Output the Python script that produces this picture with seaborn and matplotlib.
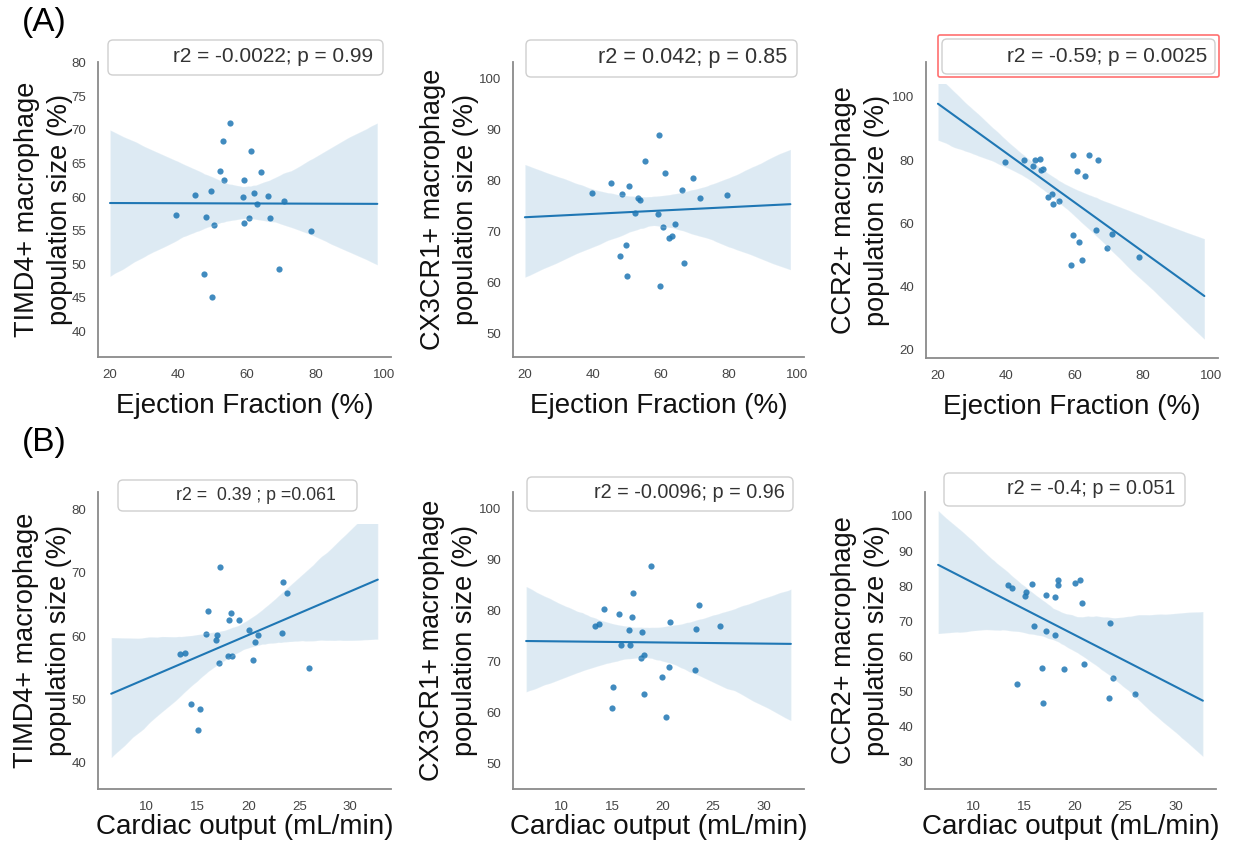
import matplotlib
matplotlib.use("Agg")
import matplotlib.pyplot as plt
from matplotlib.patches import FancyBboxPatch, Rectangle
from matplotlib.collections import PathCollection
from matplotlib.transforms import IdentityTransform
import seaborn as sns
import pandas as pd

# ---------------- data ----------------
ef_timd4 = [55.1, 53.1, 61.1, 52.1, 64.0, 53.4, 59.1, 44.9, 49.4, 58.7, 62.1, 66.2,
            70.8, 62.8, 39.3, 48.1, 50.4, 59.2, 60.5, 66.6, 78.8, 69.4, 47.5, 49.8]
timd4_ef = [71.0, 68.4, 66.8, 63.9, 63.7, 62.5, 62.5, 60.3, 60.9, 60.0, 60.6, 60.1,
            59.4, 59.0, 57.3, 57.1, 55.8, 56.2, 56.9, 56.9, 55.0, 49.3, 48.5, 45.2]

ef_cx3cr1 = [59.5, 55.3, 61.3, 69.5, 45.2, 50.7, 39.7, 48.5, 66.1, 79.3, 53.3, 53.8,
             71.3, 52.2, 59.0, 60.6, 64.2, 62.4, 63.3, 49.7, 47.8, 66.8, 50.1, 59.7]
cx3cr1_ef = [89.0, 83.8, 81.4, 80.5, 79.5, 79.0, 77.6, 77.3, 78.1, 77.2, 76.6, 76.1,
             76.5, 73.6, 73.5, 70.9, 71.5, 68.6, 69.1, 67.3, 65.2, 63.8, 61.2, 59.3]

ef_ccr2 = [39.6, 45.2, 47.8, 48.5, 49.8, 50.1, 50.7, 52.3, 53.4, 53.8, 55.3, 59.5,
           60.7, 63.1, 64.3, 66.8, 59.4, 61.4, 66.4, 71.0, 69.6, 79.0, 62.3, 59.0]
ccr2_ef = [79.3, 80.1, 78.1, 80.0, 80.4, 76.9, 77.2, 68.4, 69.4, 66.0, 67.1, 81.5,
           76.5, 74.9, 81.5, 79.9, 56.3, 54.0, 57.8, 56.7, 52.1, 49.3, 48.4, 46.9]

co_timd4 = [17.2, 23.4, 23.8, 16.0, 18.3, 18.1, 19.1, 15.8, 16.9, 16.8, 20.0, 20.9,
            20.6, 23.3, 13.3, 13.8, 18.0, 18.4, 17.1, 20.4, 25.9, 14.3, 15.2, 15.0]
timd4_co = [71.0, 68.5, 66.8, 63.9, 63.7, 62.6, 62.6, 60.4, 60.1, 59.4, 60.9, 60.2,
            59.0, 60.5, 57.2, 57.3, 56.9, 56.9, 55.8, 56.2, 55.0, 49.3, 48.5, 45.2]

co_cx3cr1 = [18.9, 17.1, 23.6, 14.2, 15.7, 17.0, 20.7, 13.3, 13.7, 16.7, 18.0, 23.3,
             25.7, 15.9, 16.8, 18.2, 17.9, 20.6, 19.9, 23.2, 15.1, 18.2, 15.0, 20.3]
cx3cr1_co = [88.8, 83.6, 81.2, 80.3, 79.3, 78.8, 77.9, 77.1, 77.5, 76.3, 75.9, 76.4,
             77.0, 73.4, 73.3, 71.3, 70.8, 69.0, 67.1, 68.4, 65.0, 63.7, 61.0, 59.2]

co_ccr2 = [13.4, 13.8, 15.8, 18.4, 18.4, 20.0, 20.5, 15.2, 15.1, 17.2, 18.1, 20.7,
           23.5, 16.0, 17.2, 18.1, 20.9, 16.8, 19.0, 23.8, 14.3, 26.0, 23.4, 16.9]
ccr2_co = [80.2, 79.6, 80.5, 81.9, 80.2, 80.8, 81.9, 78.4, 77.2, 77.5, 76.8, 75.1,
           69.6, 68.7, 67.3, 66.2, 57.8, 56.8, 56.3, 54.0, 52.1, 49.3, 48.2, 46.8]

stats_texts = ["r2 = -0.0022; p = 0.99", "r2 = 0.042; p = 0.85", "r2 = -0.59; p = 0.0025",
               "r2 =  0.39 ; p =0.061", "r2 = -0.0096; p = 0.96", "r2 = -0.4; p = 0.051"]
ylabels = ["TIMD4+ macrophage\npopulation size (%)",
           "CX3CR1+ macrophage\npopulation size (%)",
           "CCR2+ macrophage\npopulation size (%)"]
xlabels = ["Ejection Fraction (%)", "Cardiac output (mL/min)"]
ef_ticks = [20, 40, 60, 80, 100]
co_ticks = [10, 15, 20, 25, 30]
yticks_list = [[40, 45, 50, 55, 60, 65, 70, 75, 80],
               [50, 60, 70, 80, 90, 100],
               [20, 40, 60, 80, 100],
               [40, 50, 60, 70, 80],
               [50, 60, 70, 80, 90, 100],
               [30, 40, 50, 60, 70, 80, 90, 100]]

# ---------------- style ----------------
sns.set_theme(style="white")
plt.rcParams["font.family"] = ["Liberation Sans", "DejaVu Sans"]

W, H = 1238, 843
fig = plt.figure(figsize=(W / 100, H / 100), dpi=100)

def rect(l, r, top, bot):
    return [l / W, 1 - bot / H, (r - l) / W, (bot - top) / H]

panels = [
    dict(x=ef_timd4, y=timd4_ef, pos=rect(98, 391, 62, 357), ylim=(36.2, 80.1), row=0, col=0, clip=None, ylx=-0.085),
    dict(x=ef_cx3cr1, y=cx3cr1_ef, pos=rect(513, 804, 62, 357), ylim=(45.3, 103.3), row=0, col=1, clip=None, ylx=-0.118),
    dict(x=ef_ccr2, y=ccr2_ef, pos=rect(926, 1218, 62, 358), ylim=(17.4, 111.0), row=0, col=2, clip=104.0, ylx=-0.123),
    dict(x=co_timd4, y=timd4_co, pos=rect(98, 391, 492, 789), ylim=(35.8, 82.8), row=1, col=0, clip=77.8, ylx=-0.09),
    dict(x=co_cx3cr1, y=cx3cr1_co, pos=rect(513, 804, 492, 789), ylim=(45.1, 103.3), row=1, col=1, clip=None, ylx=-0.12),
    dict(x=co_ccr2, y=ccr2_co, pos=rect(925, 1216, 492, 789), ylim=(22.3, 106.8), row=1, col=2, clip=None, ylx=-0.12),
]

blue = "#1f77b4"
for i, p in enumerate(panels):
    ax = fig.add_axes(p["pos"])
    df = pd.DataFrame({"x": p["x"], "y": p["y"]})
    if p["row"] == 0:
        line_range, final_xlim, xt = (20, 98), (16.5, 102), ef_ticks
    else:
        line_range, final_xlim, xt = (6.5, 32.7), (5.2, 34.0), co_ticks
    ax.set_xlim(*line_range)
    sns.regplot(data=df, x="x", y="y", ax=ax, truncate=False, seed=1, color=blue,
                scatter_kws=dict(s=20, alpha=0.85, linewidths=0),
                line_kws=dict(lw=1.5))
    if p["clip"] is not None:
        for coll in ax.collections:
            if not isinstance(coll, PathCollection):
                cr = Rectangle((-100, -100), 300, p["clip"] + 100, transform=ax.transData)
                coll.set_clip_path(cr)
    ax.set_xlim(*final_xlim)
    ax.set_ylim(*p["ylim"])
    ax.set_xticks(xt)
    ax.set_yticks(yticks_list[i])
    ax.tick_params(labelsize=9.5, labelcolor="#444444", pad=2.5)
    sns.despine(ax=ax)
    for s in ("left", "bottom"):
        ax.spines[s].set_color("#8a8a8a")
        ax.spines[s].set_linewidth(1.3)
    ax.set_ylabel(ylabels[p["col"]], fontsize=19.5, color="#111111", linespacing=1.35)
    ax.yaxis.set_label_coords(p["ylx"], 0.5)
    ax.set_xlabel(xlabels[p["row"]], fontsize=20, color="#111111",
                  labelpad=9 if p["row"] == 0 else 1)

# ---------------- stats boxes ----------------
ident = IdentityTransform()
def box(l, r, top, bot, ec="#cfcfcf", lw=1.0, rs=5):
    patch = FancyBboxPatch((l, H - bot), r - l, bot - top,
                           boxstyle=f"round,pad=0,rounding_size={rs}",
                           transform=ident, facecolor="white", edgecolor=ec, linewidth=lw)
    fig.add_artist(patch)

boxes = [(108, 383, 40, 75), (526, 797, 40, 77), (942, 1215, 39, 74),
         (118, 357, 480, 511), (527, 793, 477, 511), (944, 1185, 473, 506)]
text_anchor = [(373, 57, "right"), (787, 58, "right"), (1207, 56, "right"),
               (176, 495, "left"), (785, 492, "right"), (1175, 489, "right")]
text_sizes = [15, 15.6, 15, 12.8, 14.3, 14.2]

# red highlight around the CCR2 vs EF box
box(938, 1219, 35, 77, ec="#ff7070", lw=1.2, rs=2)
for (l, r, t, b), (tx, ty, ha), s, fs in zip(boxes, text_anchor, stats_texts, text_sizes):
    box(l, r, t, b)
    fig.text(tx / W, 1 - ty / H, s, ha=ha, va="center", fontsize=fs, color="#333333")

fig.text(22 / W, 1 - 23 / H, "(A)", ha="left", va="center", fontsize=24, color="black")
fig.text(22 / W, 1 - 443 / H, "(B)", ha="left", va="center", fontsize=24, color="black")

fig.savefig("out.png", dpi=100)
